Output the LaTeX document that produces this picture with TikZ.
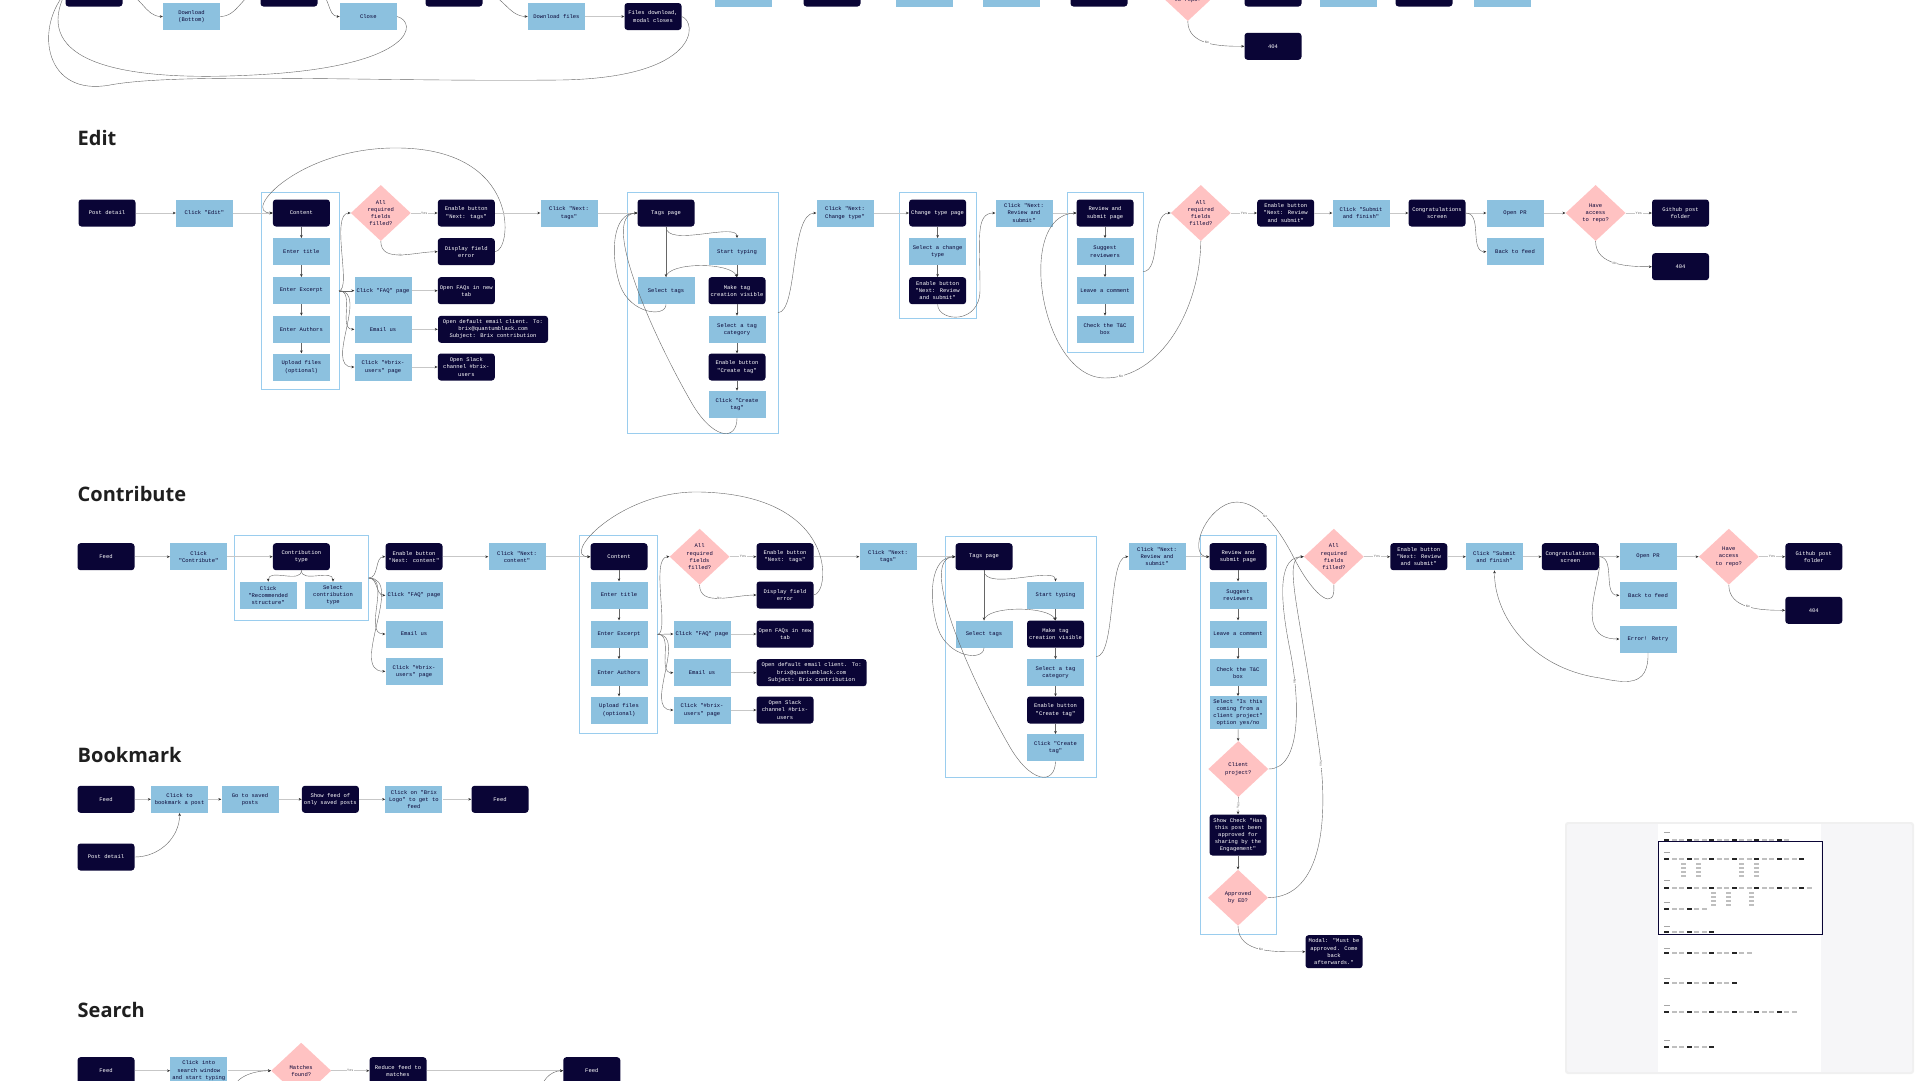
\documentclass[tikz,border=0pt]{standalone}
\usepackage{fontspec}
\usetikzlibrary{arrows.meta,shapes.geometric}
\newfontfamily\boxmono{Liberation Mono}
\newfontfamily\headfont{Open Sans}
\definecolor{navy}{HTML}{0A0536}
\definecolor{skyb}{HTML}{8CC1DF}
\definecolor{pinkd}{HTML}{FFC2C2}
\definecolor{frameb}{HTML}{9ACDEE}
\definecolor{cardg}{HTML}{F6F6F8}

\begin{document}
\begin{tikzpicture}[x=1pt,y=-1pt,
  nbox/.style={minimum width=57pt,minimum height=27pt,inner sep=1pt,align=center,font=\boxmono\fontsize{5.5}{7.2}\selectfont},
  dk/.style={nbox,fill=navy,text=white,rounded corners=3pt},
  lt/.style={nbox,fill=skyb,text=navy},
  dia/.style={diamond,fill=pinkd,text=navy,inner sep=0pt,minimum width=60pt,minimum height=56pt,align=center,font=\boxmono\fontsize{5.5}{7.2}\selectfont},
  wide/.style={minimum width=110pt},
  tall/.style={minimum height=33pt},
  grp/.style={draw=frameb,line width=0.9pt},
  sect/.style={anchor=base west,inner sep=0pt,font=\headfont\bfseries\fontsize{20}{24}\selectfont,text=black!88},
  ln/.style={draw=black!22,line width=0.8pt,-{Stealth[length=3pt,width=2.6pt,color=black!80]}},
  cv/.style={draw=black!60,line width=0.4pt,-{Stealth[length=3pt,width=2.6pt,color=black!80]}},
  lbl/.style={font=\boxmono\fontsize{3.5}{4}\selectfont,text=black!60,fill=white,inner sep=0.6pt}]
\clip (0,0) rectangle (1920,1080);
\fill[white] (0,0) rectangle (1920,1080);

% top strip (cut off)
\node[dk] (t1) at (94,-7) {};\node[lt] (tdl) at (191.5,16.5) {Download\\(Bottom)};
\node[dk] (t2) at (289,-7) {};\node[lt] (tcl) at (368.3,16.5) {Close};
\node[dk] (t3) at (454,-7) {};\node[lt] (tdf) at (556.4,16.5) {Download files};
\node[dk] (tfd) at (653,16.5) {Files download,\\modal closes};
\node[lt] (t4) at (743,-7) {};\node[dk] (t5) at (832,-7) {};\node[lt] (t6) at (924,-7) {};
\node[lt] (t7) at (1011,-7) {};\node[dk] (t8) at (1099,-7) {};
\node[dia] (tq) at (1187.8,-7) {Have\\access\\to repo?};
\node[dk] (t9) at (1273,-7) {};\node[lt] (t10) at (1348.5,-7) {};\node[dk] (t11) at (1424,-7) {};\node[lt] (t12) at (1502,-7) {};
\node[dk] (t404) at (1273,46.3) {404};
\draw[cv] (t1.east) to[out=0,in=180] (tdl.west);\draw[cv] (tdl.east) to[out=0,in=180] (t2.west);
\draw[cv] (t2.east) to[out=0,in=180] (tcl.west);\draw[cv] (t3.east) to[out=0,in=180] (tdf.west);
\draw[ln] (tdf) -- (tfd);
\draw[cv] (tcl.east) .. controls (418,22) and (415,64) .. (270,74) .. controls (90,86) and (38,50) .. (t1.west);
\draw[cv] (tfd.east) .. controls (698,22) and (700,78) .. (560,80) .. controls (380,82) and (180,72) .. (110,85) .. controls (45,97) and (35,30) .. (t1.west);
\draw[cv] (tq.south) to[out=-90,in=180] node[lbl]{No} (t404.west);

% Edit
\node[sect] (eT) at (77.5,145) {Edit};
\draw[grp] (261,192.3) rectangle (339,389.3);
\draw[grp] (627,192.3) rectangle (778,433.3);
\draw[grp] (899.6,192.3) rectangle (976,318.3);
\draw[grp] (1067,192.3) rectangle (1143,352.3);
\node[dk] (ePd) at (107,213) {Post detail};
\node[lt] (eCe) at (204.5,213) {Click "Edit"};
\node[dk] (eCo) at (301.4,213) {Content};
\node[lt] (eTi) at (301.4,251.7) {Enter title};
\node[lt] (eEx) at (301.4,290.7) {Enter Excerpt};
\node[lt] (eAu) at (301.4,329.3) {Enter Authors};
\node[lt] (eUp) at (301.4,367) {Upload files\\(optional)};
\node[dia] (eQ) at (380.8,213) {All\\required\\fields\\filled?};
\node[dk] (eEn) at (466.3,213) {Enable button\\"Next: tags"};
\node[dk] (eEr) at (466.3,251.7) {Display field\\error};
\node[lt] (eFq) at (383,290.7) {Click "FAQ" page};
\node[dk] (eOf) at (466.3,290.7) {Open FAQs in new\\tab};
\node[lt] (eEm) at (383,329.3) {Email us};
\node[dk,wide] (eOm) at (493,329.3) {Open default email client. To:\\brix@quantumblack.com\\Subject: Brix contribution};
\node[lt] (eBu) at (383,367) {Click "\#brix-\\users" page};
\node[dk] (eOs) at (466.3,367) {Open Slack\\channel \#brix-\\users};
\node[lt] (eNt) at (569,213) {Click "Next:\\tags"};
\node[dk] (eTp) at (666,213) {Tags page};
\node[lt] (eSt) at (737,251.7) {Start typing};
\node[lt] (eSe) at (666,290.7) {Select tags};
\node[dk] (eMk) at (737,290.7) {Make tag\\creation visible};
\node[lt] (eCa) at (737,329.3) {Select a tag\\category};
\node[dk] (eCt) at (737,367) {Enable button\\"Create tag"};
\node[lt] (eCc) at (737,404.3) {Click "Create\\tag"};
\node[lt] (eCn) at (845,213) {Click "Next:\\Change type"};
\node[dk] (eCp) at (937.6,213) {Change type page};
\node[lt] (eSc) at (937.6,251.7) {Select a change\\type};
\node[dk] (eEb) at (937.6,290.7) {Enable button\\"Next: Review\\and submit"};
\node[lt] (eCr) at (1024,213) {Click "Next:\\Review and\\submit"};
\node[dk] (eRv) at (1105,213) {Review and\\submit page};
\node[lt] (eSg) at (1105,251.7) {Suggest\\reviewers};
\node[lt] (eLc) at (1105,290.7) {Leave a comment};
\node[lt] (eTc) at (1105,329.3) {Check the T\&C\\box};
\node[dia] (eQ2) at (1200.8,213) {All\\required\\fields\\filled?};
\node[dk] (eEr2) at (1285.7,213) {Enable button\\"Next: Review\\and submit"};
\node[lt] (eSf) at (1361,213) {Click "Submit\\and finish"};
\node[dk] (eCg) at (1437,213) {Congratulations\\screen};
\node[lt] (ePr) at (1515,213) {Open PR};
\node[lt] (eBf) at (1515,251.7) {Back to feed};
\node[dia] (eHa) at (1595.6,213) {Have\\access\\to repo?};
\node[dk] (eGh) at (1680.5,213) {Github post\\folder};
\node[dk] (e404) at (1680.5,266.7) {404};
\coordinate (eOut) at (339,290.7);\coordinate (eTo) at (778,312.7);\coordinate (eRo) at (1143,271.7);
\draw[ln] (ePd) -- (eCe);\draw[ln] (eCe) -- (eCo);
\foreach \a/\b in {eCo/eTi,eTi/eEx,eEx/eAu,eAu/eUp,eTp/eSe,eSt/eMk,eMk/eCa,eCa/eCt,eCt/eCc,eCp/eSc,eSc/eEb,eRv/eSg,eSg/eLc,eLc/eTc}
  \draw[cv] (\a) -- (\b);
\draw[cv] (eOut) .. controls (352,290) and (330,213) .. (eQ.west);
\foreach \n in {eFq,eEm,eBu} \draw[cv] (eOut) to[out=0,in=180] (\n.west);
\draw[ln] (eQ.east) -- node[lbl]{Yes} (eEn.west);
\draw[cv] (eQ.south) to[out=-90,in=180] node[lbl]{No} (eEr.west);
\draw[cv] (eEr.east) .. controls (512,251) and (522,150) .. (400,148) .. controls (300,146) and (240,213) .. (eCo.west);
\foreach \a/\b in {eFq/eOf,eEm/eOm,eBu/eOs,eEn/eNt,eNt/eTp,eCn/eCp,eCr/eRv,eEr2/eSf,eSf/eCg,eCg/ePr,ePr/eHa}
  \draw[ln] (\a) -- (\b);
\draw[cv] (eTp.south) .. controls (666,248) and (737,222) .. (eSt.north);
\draw[cv] (eSe.north) .. controls (668,262) and (730,262) .. (eMk.north);
\draw[cv] (eSe.south) .. controls (666,318) and (630,314) .. (620,285) .. controls (610,255) and (612,213) .. (eTp.west);
\draw[cv] (eCc.south) .. controls (737,442) and (712,440) .. (690,400) .. controls (650,330) and (600,215) .. (eTp.west);
\draw[cv] (eTo) .. controls (798,312) and (790,213) .. (eCn.west);
\draw[cv] (eEb.south) .. controls (938,322) and (980,325) .. (980,290) .. controls (980,240) and (975,213) .. (eCr.west);
\draw[cv] (eRo) .. controls (1162,271) and (1150,213) .. (eQ2.west);
\draw[cv] (eQ2.south) .. controls (1200,310) and (1160,378) .. node[lbl,pos=0.9]{No} (1105,378) .. controls (1040,378) and (1015,215) .. (eRv.west);
\draw[ln] (eQ2.east) -- node[lbl]{Yes} (eEr2.west);
\draw[cv] (eCg.east) to[out=0,in=180] (eBf.west);
\draw[ln] (eHa.east) -- node[lbl]{Yes} (eGh.west);
\draw[cv] (eHa.south) to[out=-90,in=180] node[lbl]{No} (e404.west);

% Contribute
\node[sect] (cT) at (77.5,501.7) {Contribute};
\draw[grp] (234,535.7) rectangle (368.6,620.3);
\draw[grp] (579.6,535.7) rectangle (657.6,733.3);
\draw[grp] (945.3,536) rectangle (1096.3,777);
\draw[grp] (1200,535.7) rectangle (1276.7,934);
\node[dk] (cFd) at (106,556.7) {Feed};
\node[lt] (cCc) at (198.6,556.7) {Click\\"Contribute"};
\node[dk] (cTy) at (301.4,556.7) {Contribution\\type};
\node[lt] (cRs) at (268.2,595.3) {Click\\"Recommended\\structure"};
\node[lt] (cSt) at (333,595.3) {Select\\contribution\\type};
\node[dk] (cEn) at (414,556.7) {Enable button\\"Next: content"};
\node[lt] (cFq) at (414,595.3) {Click "FAQ" page};
\node[lt] (cEm) at (414,634) {Email us};
\node[lt] (cBu) at (414,671.3) {Click "\#brix-\\users" page};
\node[lt] (cNc) at (517,556.7) {Click "Next:\\content"};
\node[dk] (cCo) at (619,556.7) {Content};
\node[lt] (cTi) at (619,595) {Enter title};
\node[lt] (cEx) at (619,634) {Enter Excerpt};
\node[lt] (cAu) at (619,672.7) {Enter Authors};
\node[lt] (cUp) at (619,710) {Upload files\\(optional)};
\node[dia] (cQ) at (699.6,556.7) {All\\required\\fields\\filled?};
\node[dk] (cEb) at (785,556.7) {Enable button\\"Next: tags"};
\node[dk] (cEr) at (785,595) {Display field\\error};
\node[lt] (cFq2) at (702,634) {Click "FAQ" page};
\node[dk] (cOf) at (785,634) {Open FAQs in new\\tab};
\node[lt] (cEm2) at (702,672.7) {Email us};
\node[dk,wide] (cOm) at (811.6,672.7) {Open default email client. To:\\brix@quantumblack.com\\Subject: Brix contribution};
\node[lt] (cBu2) at (702,710) {Click "\#brix-\\users" page};
\node[dk] (cOs) at (785,710) {Open Slack\\channel \#brix-\\users};
\node[lt] (cNt) at (888,556.7) {Click "Next:\\tags"};
\node[dk] (cTp) at (984,556.7) {Tags page};
\node[lt] (cSs) at (1055.5,595) {Start typing};
\node[lt] (cSe) at (984,634) {Select tags};
\node[dk] (cMk) at (1055.5,634) {Make tag\\creation visible};
\node[lt] (cCa) at (1055.5,672.7) {Select a tag\\category};
\node[dk] (cCt) at (1055.5,710) {Enable button\\"Create tag"};
\node[lt] (cCl) at (1055.5,747.7) {Click "Create\\tag"};
\node[lt] (cNr) at (1157,556.7) {Click "Next:\\Review and\\submit"};
\node[dk] (cRv) at (1238,556.7) {Review and\\submit page};
\node[lt] (cSg) at (1238,595) {Suggest\\reviewers};
\node[lt] (cLc) at (1238,634) {Leave a comment};
\node[lt] (cTc) at (1238,672.7) {Check the T\&C\\box};
\node[lt,tall] (cCp) at (1238,712.7) {Select "Is this\\coming from a\\client project"\\option yes/no};
\node[dia] (cCq) at (1238.3,769) {Client\\project?};
\node[dk,minimum height=41pt] (cSh) at (1238,835) {Show Check "Has\\this post been\\approved for\\sharing by the\\Engagement"};
\node[dia] (cAp) at (1238,897.7) {Approved\\by ED?};
\node[dk,tall] (cMo) at (1334,951.7) {Modal: "Must be\\approved. Come\\back\\afterwards."};
\node[dia] (cQ2) at (1333.8,556.7) {All\\required\\fields\\filled?};
\node[dk] (cEr2) at (1418.8,556.7) {Enable button\\"Next: Review\\and submit"};
\node[lt] (cSf) at (1494.5,556.7) {Click "Submit\\and finish"};
\node[dk] (cCg) at (1570.3,556.7) {Congratulations\\screen};
\node[lt] (cPr) at (1648,556.7) {Open PR};
\node[lt] (cBf) at (1648,595.3) {Back to feed};
\node[lt] (cEt) at (1648,639) {Error! Retry};
\node[dia] (cHa) at (1728.8,556.7) {Have\\access\\to repo?};
\node[dk] (cGh) at (1813.8,556.7) {Github post\\folder};
\node[dk] (c404) at (1813.8,610.3) {404};
\coordinate (cO1) at (368.6,578);\coordinate (cO2) at (657.6,634.3);\coordinate (cTo) at (1096.3,656.7);
\foreach \a/\b in {cFd/cCc,cCc/cTy,cEn/cNc,cNc/cCo,cFq2/cOf,cEm2/cOm,cBu2/cOs,cEb/cNt,cNt/cTp,cNr/cRv,cEr2/cSf,cSf/cCg,cCg/cPr,cPr/cHa}
  \draw[ln] (\a) -- (\b);
\foreach \a/\b in {cCo/cTi,cTi/cEx,cEx/cAu,cAu/cUp,cTp/cSe,cSs/cMk,cMk/cCa,cCa/cCt,cCt/cCl,cRv/cSg,cSg/cLc,cLc/cTc,cTc/cCp,cCp/cCq,cSh/cAp}
  \draw[cv] (\a) -- (\b);
\draw[cv] (cTy.south) to[out=-90,in=90] (cRs.north);\draw[cv] (cTy.south) to[out=-90,in=90] (cSt.north);
\foreach \n in {cEn,cFq,cEm,cBu} \draw[cv] (cO1) to[out=0,in=180] (\n.west);
\draw[cv] (cO2) .. controls (670,634) and (650,556.7) .. (cQ.west);
\foreach \n in {cFq2,cEm2,cBu2} \draw[cv] (cO2) to[out=0,in=180] (\n.west);
\draw[ln] (cQ.east) -- node[lbl]{Yes} (cEb.west);
\draw[cv] (cQ.south) to[out=-90,in=180] node[lbl]{No} (cEr.west);
\draw[cv] (cEr.east) .. controls (830,594) and (840,495) .. (700,492) .. controls (620,490) and (560,556.7) .. (cCo.west);
\draw[cv] (cTp.south) .. controls (984,591.7) and (1055.5,565.7) .. (cSs.north);
\draw[cv] (cSe.north) .. controls (986,605.7) and (1048,605.7) .. (cMk.north);
\draw[cv] (cSe.south) .. controls (984,661.7) and (948,657.7) .. (938,628.7) .. controls (928,598.7) and (930,556.7) .. (cTp.west);
\draw[cv] (cCl.south) .. controls (1055,785.7) and (1030,783.7) .. (1008,743.7) .. controls (968,673.7) and (918,558.7) .. (cTp.west);
\draw[cv] (cTo) .. controls (1116,656) and (1108,556.7) .. (cNr.west);
\draw[cv] (cCq.south) -- node[lbl,sloped]{Yes} (cSh.north);
\draw[cv] (cAp.south) to[out=-90,in=180] node[lbl]{No} (cMo.west);
\draw[cv] (cCq.east) .. controls (1302,769) and (1300,700) .. node[lbl,rotate=-90,pos=0.8]{No} (1290,650) .. controls (1278,590) and (1280,556.7) .. (cQ2.west);
\draw[cv] (cAp.east) .. controls (1322,897) and (1330,820) .. node[lbl,rotate=-90,pos=0.9]{Yes} (1318,740) .. controls (1300,610) and (1282,556.7) .. (cQ2.west);
\draw[cv] (cQ2.south) .. controls (1336,612) and (1315,598) .. (1295,560) .. controls (1270,510) and (1245,495) .. node[lbl,pos=0.4]{No} (1225,505) .. controls (1200,518) and (1190,556.7) .. (cRv.west);
\draw[ln] (cQ2.east) -- node[lbl]{Yes} (cEr2.west);
\draw[cv] (cCg.east) to[out=0,in=180] (cBf.west);
\draw[cv] (cCg.east) .. controls (1605,575) and (1570,639) .. (cEt.west);
\draw[cv] (cEt.south) .. controls (1649,688) and (1625,683) .. (1600,678) .. controls (1530,668) and (1494,615) .. (cSf.south);
\draw[ln] (cHa.east) -- node[lbl]{Yes} (cGh.west);
\draw[cv] (cHa.south) to[out=-90,in=180] node[lbl]{No} (c404.west);

% Bookmark
\node[sect] (bT) at (77.5,762.3) {Bookmark};
\node[dk] (bFd) at (106,799.3) {Feed};
\node[lt] (bCb) at (179.6,799.3) {Click to\\bookmark a post};
\node[lt] (bGs) at (250,799.3) {Go to saved\\posts};
\node[dk] (bSf) at (330.4,799.3) {Show feed of\\only saved posts};
\node[lt] (bCl) at (413.9,799.3) {Click on "Brix\\Logo" to get to\\feed};
\node[dk] (bFe) at (500,799.3) {Feed};
\node[dk] (bPd) at (106,857) {Post detail};
\foreach \a/\b in {bFd/bCb,bCb/bGs,bGs/bSf,bSf/bCl,bCl/bFe} \draw[ln] (\a) -- (\b);
\draw[cv] (bPd.east) to[out=0,in=-90] (bCb.south);

% Search
\node[sect] (sT) at (77.5,1017.3) {Search};
\node[dk] (sFd) at (106,1070.7) {Feed};
\node[lt] (sCi) at (198.8,1070.7) {Click into\\search window\\and start typing};
\node[dia] (sMf) at (301.2,1070.7) {Matches\\found?};
\node[dk] (sRf) at (398,1070.7) {Reduce feed to\\matches};
\node[dk] (sFe) at (591.8,1070.7) {Feed};
\coordinate (sU1) at (232,1095);\coordinate (sU2) at (540,1095);
\draw[ln] (sFd) -- (sCi);\draw[ln] (sCi) -- (sMf);\draw[ln] (sMf.east) -- node[lbl]{Yes} (sRf.west);\draw[ln] (sRf) -- (sFe);
\draw[cv] (sU1) to[out=90,in=180] (sMf.west);\draw[cv] (sU2) to[out=90,in=180] (sFe.west);

% minimap
\fill[black!6,rounded corners=3pt] (1565,822) rectangle (1914,1074);
\fill[cardg,rounded corners=2pt] (1567,824) rectangle (1912,1072);
\fill[white] (1658.3,824) rectangle (1820.7,1072);
\foreach \yy in {832,852,880,902,926,948,978,1005,1040} \fill[black!35] (1664,\yy) rectangle ++(6,1);
\foreach \yy/\nn in {840/16,859/18,888/19,909/5,932/6,953/11,983/9,1012/17,1047/6}
  {\foreach \i in {0,...,\nn} {\fill[black!25] (1664+7.5*\i,\yy-1) rectangle ++(5,2);}
   \foreach \i in {0,3,...,\nn} {\fill[black!85] (1664+7.5*\i,\yy-1) rectangle ++(5,2.2);}}
\foreach \x in {1681,1696,1739,1754} \foreach \k in {1,...,4} \fill[black!25] (\x,859+4*\k) rectangle ++(5,1.8);
\foreach \x in {1711,1726,1749} \foreach \k in {1,...,4} \fill[black!25] (\x,888+4*\k) rectangle ++(5,1.8);
\draw[navy,line width=1.4pt] (1658.7,841.7) rectangle (1822.3,934.3);
\end{tikzpicture}
\end{document}
